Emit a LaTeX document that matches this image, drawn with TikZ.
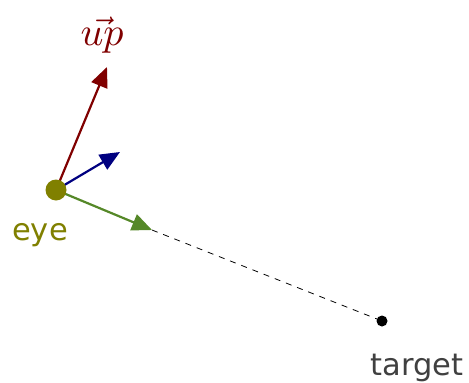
\documentclass[tikz,border=0pt]{standalone}
\usepackage{fontspec}
\setsansfont{DejaVu Sans}
\usetikzlibrary{arrows.meta}
\definecolor{upred}{RGB}{128,0,0}
\definecolor{rightblue}{RGB}{0,0,128}
\definecolor{fwdgreen}{RGB}{85,136,40}
\definecolor{eyeolive}{RGB}{128,128,0}
\definecolor{tgtgray}{RGB}{64,64,64}
\tikzset{
  vec/.style={line width=2.2pt,-{Triangle[length=20pt,width=17pt]}},
  lbl/.style={font=\sffamily\fontsize{30.5}{30.5}\selectfont,anchor=base,inner sep=0pt},
}
\begin{document}
\begin{tikzpicture}[x=1pt,y=-1pt]
\useasboundingbox (0,0) rectangle (469,383);
\coordinate (eye) at (56,190);
\coordinate (up) at (107,67);
\coordinate (right) at (120,152);
\coordinate (fwd) at (152,230);
\coordinate (target) at (382,321);
\draw[dashed,dash pattern=on 6pt off 6pt,line width=0.8pt] (fwd) -- (target);
\draw[vec,upred] (eye) -- (up);
\draw[vec,rightblue] (eye) -- (right);
\draw[vec,fwdgreen] (eye) -- (fwd);
\fill[eyeolive] (eye) circle (10.5pt);
\fill[black] (target) circle (5.5pt);
\node[lbl,text=eyeolive] (eyelbl) at (40,240) {eye};
\node[lbl,text=tgtgray] (tgtlbl) at (417,375) {target};
\node[anchor=base,inner sep=0pt,text=upred] (uplbl) at (102,45) {\scalebox{4}{$\vec{up}$}};
\end{tikzpicture}
\end{document}
